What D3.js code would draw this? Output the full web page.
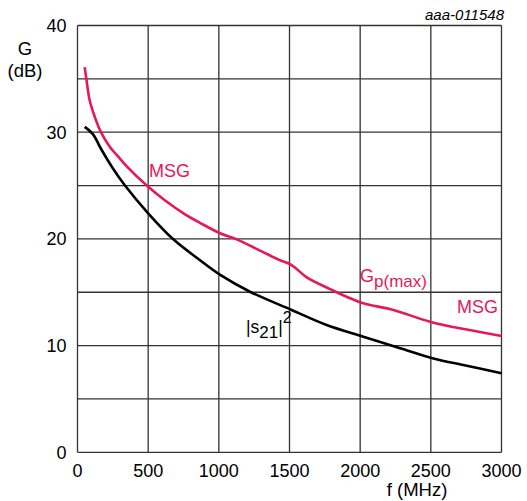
<!DOCTYPE html>
<html>
<head>
<meta charset="utf-8">
<script src="https://cdn.jsdelivr.net/npm/d3@7"></script>
<style>
  body { margin: 0; background: #fff; }
  text { font-family: "Liberation Sans", Arial, sans-serif; }
</style>
</head>
<body>
<div id="chart"></div>
<script>
// data
var xTicks = [0, 500, 1000, 1500, 2000, 2500, 3000];
var yTicks = [0, 10, 20, 30, 40];
var yGrid = [0, 5, 10, 15, 20, 25, 30, 35, 40];

var gpFreq = [51, 63, 86, 122, 164, 228, 299, 352, 490, 620, 761, 867, 1013, 1126, 1300, 1433, 1515, 1622, 1787, 1900, 2022, 2235, 2494, 2754, 3000];
var gpGain = [36.1, 34.95, 33.0, 31.45, 30.05, 28.64, 27.55, 26.75, 25.0, 23.6, 22.3, 21.5, 20.5, 19.96, 18.85, 18.0, 17.55, 16.4, 15.3, 14.6, 13.97, 13.34, 12.24, 11.5, 10.9];

var s21Freq = [51, 110, 168, 251, 336, 500, 678, 867, 1013, 1220, 1515, 1763, 2022, 2283, 2518, 2754, 3000];
var s21Gain = [30.5, 29.8, 28.4, 26.6, 25.0, 22.4, 19.96, 18.0, 16.6, 15.05, 13.34, 11.93, 10.83, 9.75, 8.8, 8.12, 7.4];

var red = "#e6185a";

// manually set margins
var margin = {top: 25.5, right: 25.5, bottom: 48.7, left: 77.5},
    width = 527 - margin.left - margin.right,
    height = 501 - margin.top - margin.bottom;

var x = d3.scaleLinear().domain([0, 3000]).range([0, width]);
var y = d3.scaleLinear().domain([0, 40]).range([height, 0]);

var svg = d3.select("#chart")
  .append("svg")
    .attr("width", 527)
    .attr("height", 501);

var g = svg.append("g")
    .attr("transform", "translate(" + margin.left + "," + margin.top + ")");

// grid
g.selectAll(".vgrid")
  .data(xTicks)
  .enter().append("line")
    .attr("x1", d => x(d)).attr("x2", d => x(d))
    .attr("y1", 0).attr("y2", height)
    .attr("stroke", "#333").attr("stroke-width", 1.3);

g.selectAll(".hgrid")
  .data(yGrid)
  .enter().append("line")
    .attr("x1", 0).attr("x2", width)
    .attr("y1", d => y(d)).attr("y2", d => y(d))
    .attr("stroke", "#333").attr("stroke-width", 1.3);

// tick labels
g.selectAll(".xlab")
  .data(xTicks)
  .enter().append("text")
    .attr("x", d => x(d))
    .attr("y", height + 24.5)
    .attr("text-anchor", "middle")
    .attr("font-size", 18)
    .text(d => d);

g.selectAll(".ylab")
  .data(yTicks)
  .enter().append("text")
    .attr("x", -11)
    .attr("y", d => y(d) + 6.5)
    .attr("text-anchor", "end")
    .attr("font-size", 18)
    .text(d => d);

// axis titles
svg.append("text").attr("x", 25).attr("y", 55).attr("text-anchor", "middle")
  .attr("font-size", 18.5).text("G");
svg.append("text").attr("x", 25).attr("y", 77).attr("text-anchor", "middle")
  .attr("font-size", 18.5).text("(dB)");
svg.append("text").attr("x", 417).attr("y", 496).attr("text-anchor", "middle")
  .attr("font-size", 18.5).text("f (MHz)");
svg.append("text").attr("x", 504).attr("y", 20).attr("text-anchor", "end")
  .attr("font-size", 15).attr("font-style", "italic").text("aaa-011548");

// curves
var line = d3.line()
    .x(d => x(d[0]))
    .y(d => y(d[1]))
    .curve(d3.curveCatmullRom.alpha(0.5));

g.append("path")
  .datum(d3.zip(s21Freq, s21Gain))
  .attr("d", line)
  .attr("fill", "none")
  .attr("stroke", "#000")
  .attr("stroke-width", 2.6);

g.append("path")
  .datum(d3.zip(gpFreq, gpGain))
  .attr("d", line)
  .attr("fill", "none")
  .attr("stroke", red)
  .attr("stroke-width", 2.6);

// curve labels
svg.append("text").attr("x", 149).attr("y", 177).attr("font-size", 18)
  .attr("fill", red).text("MSG");
svg.append("text").attr("x", 457).attr("y", 313).attr("font-size", 18)
  .attr("fill", red).text("MSG");

var gp = svg.append("text").attr("x", 360).attr("y", 282).attr("font-size", 18)
  .attr("fill", red);
gp.append("tspan").text("G");
gp.append("tspan").attr("dy", 5).attr("font-size", 17).text("p(max)");

var s21 = svg.append("text").attr("x", 246).attr("y", 333).attr("font-size", 17.5);
s21.append("tspan").text("|s");
s21.append("tspan").attr("dy", 5).attr("font-size", 17).text("21");
s21.append("tspan").attr("dy", -5).text("|");
s21.append("tspan").attr("dy", -10).attr("font-size", 16).text("2");
</script>
</body>
</html>
